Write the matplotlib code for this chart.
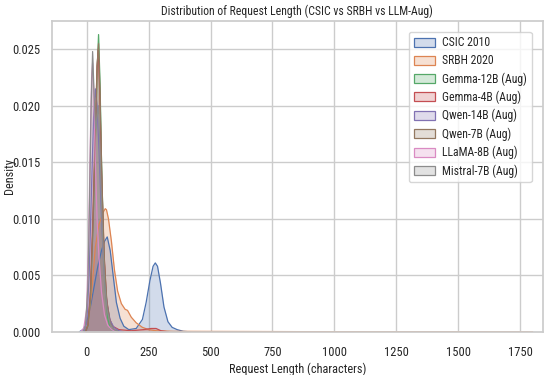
import matplotlib
matplotlib.use('Agg')
import matplotlib.pyplot as plt
import seaborn as sns
from matplotlib.patches import Patch

# density curves: (request length, density)
labels = ['CSIC 2010', 'SRBH 2020', 'Gemma-12B (Aug)', 'Gemma-4B (Aug)',
          'Qwen-14B (Aug)', 'Qwen-7B (Aug)', 'LLaMA-8B (Aug)', 'Mistral-7B (Aug)']

csic_x = [-30, -15, 0, 15, 30, 45, 60, 72, 83, 95, 108, 120, 135, 150, 170, 200, 225, 240, 255, 268, 277, 286, 298, 312, 328, 345, 365, 390, 420]
csic_y = [0, 0.0002, 0.0008, 0.0022, 0.0040, 0.0058, 0.0072, 0.0080, 0.0084, 0.0072, 0.0048, 0.0026, 0.0012, 0.0005, 0.0002, 0.0003, 0.0011, 0.0026, 0.0045, 0.0058, 0.0061, 0.0058, 0.0043, 0.0022, 0.0009, 0.0004, 0.0002, 0.00005, 0]

srbh_x = [-10, 5, 20, 35, 50, 65, 75, 80, 88, 100, 112, 125, 140, 155, 165, 180, 200, 225, 250, 280, 350, 500, 700, 900, 1200, 1500, 1800]
srbh_y = [0, 0.0006, 0.0035, 0.0075, 0.0095, 0.0105, 0.0109, 0.0108, 0.0100, 0.0080, 0.0055, 0.0036, 0.0025, 0.0020, 0.0019, 0.0013, 0.0008, 0.0004, 0.0002, 0.0001, 0.00005, 0.00004, 0.00003, 0.00002, 0.00001, 0.00001, 0]

gem12_x = [-5, 5, 15, 25, 35, 42, 48, 54, 60, 68, 76, 85, 95, 110]
gem12_y = [0, 0.0005, 0.003, 0.009, 0.017, 0.023, 0.0263, 0.022, 0.015, 0.008, 0.0035, 0.0012, 0.0003, 0]

gem4_x = [-5, 5, 15, 25, 35, 42, 47, 53, 60, 70, 80, 92, 105, 130, 180, 230, 260, 280, 300, 330]
gem4_y = [0, 0.0006, 0.0035, 0.010, 0.018, 0.0235, 0.0250, 0.021, 0.014, 0.007, 0.003, 0.0012, 0.0005, 0.0002, 0.0001, 0.0002, 0.0003, 0.0003, 0.0001, 0]

qw14_x = [-10, 0, 10, 20, 28, 35, 42, 50, 60, 70, 82, 95, 110, 130, 150]
qw14_y = [0, 0.0008, 0.005, 0.013, 0.019, 0.0215, 0.020, 0.016, 0.010, 0.0055, 0.0025, 0.0010, 0.0004, 0.0001, 0]

qw7_x = [-5, 5, 15, 25, 35, 42, 48, 54, 62, 72, 82, 95, 110, 130]
qw7_y = [0, 0.0006, 0.003, 0.009, 0.017, 0.0235, 0.0255, 0.021, 0.013, 0.006, 0.0025, 0.0008, 0.0002, 0]

llama_x = [-25, -12, 0, 8, 15, 20, 24, 29, 35, 42, 50, 60, 72, 85, 100, 120]
llama_y = [0, 0.0003, 0.002, 0.008, 0.017, 0.0225, 0.0238, 0.021, 0.015, 0.010, 0.0065, 0.0035, 0.0015, 0.0006, 0.0002, 0]

mistral_x = [-15, -5, 5, 12, 18, 24, 30, 36, 42, 48, 55, 63, 72, 82, 95, 110, 130]
mistral_y = [0, 0.0005, 0.004, 0.012, 0.020, 0.0248, 0.021, 0.018, 0.019, 0.020, 0.015, 0.009, 0.0045, 0.0020, 0.0007, 0.0002, 0]

series = [(csic_x, csic_y), (srbh_x, srbh_y), (gem12_x, gem12_y), (gem4_x, gem4_y),
          (qw14_x, qw14_y), (qw7_x, qw7_y), (llama_x, llama_y), (mistral_x, mistral_y)]

sns.set_theme(style='whitegrid')
plt.rcParams['font.family'] = ['Roboto Condensed', 'DejaVu Sans']
colors = sns.color_palette('deep', 8)

fig = plt.figure(figsize=(5.5, 3.75), dpi=100)
ax = fig.add_axes([0.0945, 0.115, 0.892, 0.829])

handles = []
for (xs, ys), lab, c in zip(series, labels, colors):
    ax.fill_between(xs, ys, color=c, alpha=0.25, linewidth=0)
    ax.plot(xs, ys, color=c, linewidth=0.9)
    handles.append(Patch(facecolor=(*c, 0.25), edgecolor=c, linewidth=0.9, label=lab))

ax.set_xlim(-140, 1840)
ax.set_ylim(0, 0.0275)
ax.set_xticks([0, 250, 500, 750, 1000, 1250, 1500, 1750])
ax.set_yticks([0, 0.005, 0.01, 0.015, 0.02, 0.025])
ax.set_yticklabels(['0.000', '0.005', '0.010', '0.015', '0.020', '0.025'])
ax.tick_params(axis='x', labelsize=9, pad=4)
ax.tick_params(axis='y', labelsize=9, pad=2)
ax.set_xlabel('Request Length (characters)', fontsize=8.8, labelpad=3)
ax.set_ylabel('Density', fontsize=8.8)
ax.yaxis.set_label_coords(-0.074, 0.5)
ax.set_title('Distribution of Request Length (CSIC vs SRBH vs LLM-Aug)', fontsize=8.5, pad=4)
ax.legend(handles=handles, loc='upper right', fontsize=8.5, frameon=True,
          handlelength=1.8, handleheight=0.8, labelspacing=0.42, borderpad=0.4,
          handletextpad=0.6, bbox_to_anchor=(0.99, 0.985))

fig.savefig('out.png')
